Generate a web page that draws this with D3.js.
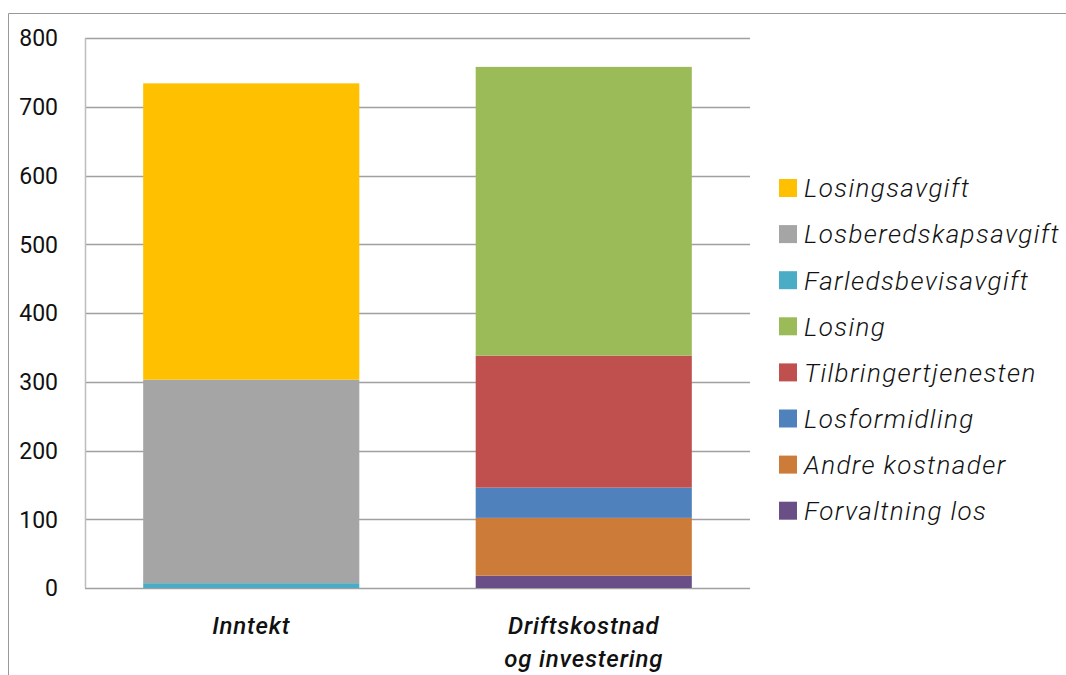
<!DOCTYPE html>
<html>
<head>
<meta charset="utf-8">
<script src="https://cdn.jsdelivr.net/npm/d3@7"></script>
<style>
  body { margin: 0; background: #fff; }
  text { font-family: Roboto, "DejaVu Sans", sans-serif; fill: #111; }
</style>
</head>
<body>
<svg id="chart"></svg>
<script>
var width = 1066;
var height = 675;

// kategorier og serier (mill. kr)
var categories = ["Inntekt", "Driftskostnad\nog investering"];
var seriesNames = ["Losingsavgift", "Losberedskapsavgift", "Farledsbevisavgift", "Losing",
                   "Tilbringertjenesten", "Losformidling", "Andre kostnader", "Forvaltning los"];
var seriesColors = ["#ffc000", "#a5a5a5", "#4bacc6", "#9bbb59",
                    "#c0504d", "#4f81bd", "#cc7b38", "#6a4f87"];
// verdier per serie: [Inntekt, Driftskostnad]
var losingsavgift       = [431, 0];
var losberedskapsavgift = [296, 0];
var farledsbevisavgift  = [7, 0];
var losing              = [0, 420];
var tilbringertjenesten = [0, 192];
var losformidling       = [0, 44];
var andreKostnader      = [0, 84];
var forvaltningLos      = [0, 18];
var yTicks = [0, 100, 200, 300, 400, 500, 600, 700, 800];

// stack order from bottom
var stackOrder = ["Farledsbevisavgift", "Losberedskapsavgift", "Losingsavgift",
                  "Forvaltning los", "Andre kostnader", "Losformidling", "Tilbringertjenesten", "Losing"];
var valuesByName = {
    "Losingsavgift": losingsavgift,
    "Losberedskapsavgift": losberedskapsavgift,
    "Farledsbevisavgift": farledsbevisavgift,
    "Losing": losing,
    "Tilbringertjenesten": tilbringertjenesten,
    "Losformidling": losformidling,
    "Andre kostnader": andreKostnader,
    "Forvaltning los": forvaltningLos
};

var table = categories.map(function(c, i) {
    var row = {cat: c};
    seriesNames.forEach(function(s) { row[s] = valuesByName[s][i]; });
    return row;
});

var svg = d3.select("#chart")
    .attr("width", width)
    .attr("height", height);

// outer frame lines
svg.append("line").attr("x1", 8.5).attr("x2", width).attr("y1", 13.5).attr("y2", 13.5)
    .attr("stroke", "#999").attr("stroke-width", 1);
svg.append("line").attr("x1", 8.5).attr("x2", 8.5).attr("y1", 13.5).attr("y2", height)
    .attr("stroke", "#999").attr("stroke-width", 1);

var x = d3.scaleBand()
    .domain(categories)
    .range([85, 750])
    .paddingInner(0.35)
    .paddingOuter(0.175);

var y = d3.scaleLinear()
    .domain([0, 800])
    .range([588, 38]);

var color = d3.scaleOrdinal().domain(seriesNames).range(seriesColors);

// gridlines
svg.append("g")
    .selectAll("line")
    .data(yTicks)
    .enter().append("line")
    .attr("x1", 85).attr("x2", 750)
    .attr("y1", function(d) { return Math.round(y(d)) + 0.5; })
    .attr("y2", function(d) { return Math.round(y(d)) + 0.5; })
    .attr("stroke", "#a0a0a0")
    .attr("stroke-width", 1.5);

// y axis line
svg.append("line").attr("x1", 85.5).attr("x2", 85.5).attr("y1", y(800)).attr("y2", y(0))
    .attr("stroke", "#bdbdbd").attr("stroke-width", 1.5);

// y labels
svg.append("g")
    .selectAll("text")
    .data(yTicks)
    .enter().append("text")
    .attr("x", 58)
    .attr("y", function(d) { return y(d); })
    .attr("dy", "0.36em")
    .attr("text-anchor", "end")
    .style("font-size", "23px")
    .style("font-weight", 400)
    .text(function(d) { return d; });

var stack = d3.stack().keys(stackOrder);
var layers = stack(table);

svg.append("g")
    .selectAll("g")
    .data(layers)
    .enter().append("g")
    .attr("fill", function(d) { return color(d.key); })
    .selectAll("rect")
    .data(function(d) { return d; })
    .enter().append("rect")
    .attr("x", function(d) { return x(d.data.cat); })
    .attr("width", x.bandwidth())
    .attr("y", function(d) { return y(d[1]); })
    .attr("height", function(d) { return y(d[0]) - y(d[1]); });

// category labels
var catG = svg.append("g")
    .selectAll("text")
    .data(categories)
    .enter().append("text")
    .attr("text-anchor", "middle")
    .attr("y", 634)
    .style("font-size", "24px")
    .style("font-style", "italic")
    .style("font-weight", 500)
    .style("letter-spacing", "0.8px");
catG.each(function(c) {
    var lines = c.split("\n");
    var t = d3.select(this);
    lines.forEach(function(l, i) {
        t.append("tspan")
            .attr("x", x(c) + x.bandwidth() / 2)
            .attr("dy", i === 0 ? 0 : 33)
            .text(l);
    });
});

// legend
var legend = svg.append("g")
    .selectAll("g")
    .data(seriesNames)
    .enter().append("g")
    .attr("transform", function(d, i) { return "translate(779," + (188 + i * 46.1) + ")"; });

legend.append("rect")
    .attr("x", 0).attr("y", -9)
    .attr("width", 18).attr("height", 18)
    .attr("fill", function(d) { return color(d); });

legend.append("text")
    .attr("x", 25)
    .attr("dy", "0.36em")
    .style("font-size", "26px")
    .style("font-style", "italic")
    .style("font-weight", 300)
    .style("letter-spacing", "1.4px")
    .text(function(d) { return d; });
</script>
</body>
</html>
